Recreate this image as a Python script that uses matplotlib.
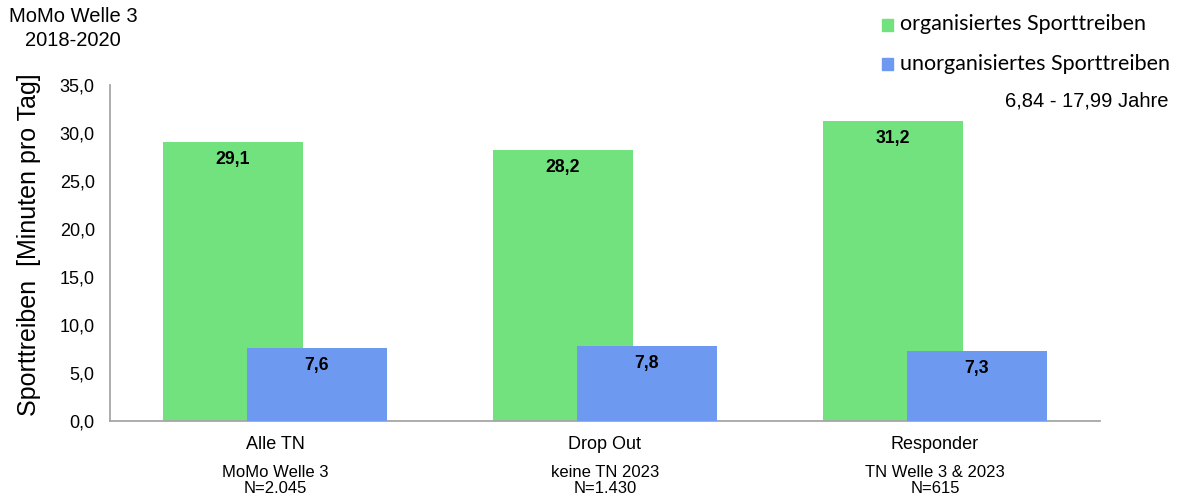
import matplotlib
matplotlib.use("Agg")
import matplotlib.pyplot as plt
from matplotlib.patches import Rectangle

categories = ["Alle TN", "Drop Out", "Responder"]
sublabels = ["MoMo Welle 3\nN=2.045", "keine TN 2023\nN=1.430", "TN Welle 3 & 2023\nN=615"]
organisiert = [29.1, 28.2, 31.2]
unorganisiert = [7.6, 7.8, 7.3]
yticks = [0, 5, 10, 15, 20, 25, 30, 35]

GREEN = "#72E27E"
BLUE = "#6D9AF0"
SPINE = "#A6A6A6"
plt.rcParams["font.family"] = ["Liberation Sans", "DejaVu Sans"]

fig = plt.figure(figsize=(11.77, 5.0), dpi=100)
ax = fig.add_axes([0.0935, 0.158, 0.841, 0.672])

width = 0.424
offset = 0.127
x = list(range(len(categories)))
ax.bar([i - offset for i in x], organisiert, width=width, color=GREEN, zorder=2)
ax.bar([i + offset for i in x], unorganisiert, width=width, color=BLUE, zorder=3)

for i in x:
    ax.annotate(f"{organisiert[i]:.1f}".replace(".", ","), (i - offset, organisiert[i]),
                xytext=(0, -12.5), textcoords="offset points", ha="center", va="center",
                fontsize=12.7, fontweight="bold", zorder=4)
    ax.annotate(f"{unorganisiert[i]:.1f}".replace(".", ","), (i + offset, unorganisiert[i]),
                xytext=(0, -12.5), textcoords="offset points", ha="center", va="center",
                fontsize=12.7, fontweight="bold", zorder=4)

ax.set_xlim(-0.5, 2.5)
ax.set_ylim(0, 35)
ax.set_yticks(yticks)
ax.set_yticklabels([f"{v:.1f}".replace(".", ",") for v in yticks], fontsize=13)
ax.set_xticks(x)
ax.set_xticklabels(categories, fontsize=13)
ax.tick_params(axis="y", length=0, pad=11)
ax.tick_params(axis="x", length=0, pad=10.5)
for s in ("top", "right"):
    ax.spines[s].set_visible(False)
for s in ("left", "bottom"):
    ax.spines[s].set_color(SPINE)
    ax.spines[s].set_linewidth(1.3)

for i in x:
    ax.annotate(sublabels[i], (i, 0), xycoords=("data", "axes fraction"),
                xytext=(0, -31.5), textcoords="offset points", ha="center", va="top",
                fontsize=12, linespacing=1.12)

fig.text(0.025, 0.51, "Sporttreiben  [Minuten pro Tag]", rotation=90, ha="center",
         va="center", fontsize=18)
fig.text(0.062, 0.985, "MoMo Welle 3\n2018-2020", ha="center", va="top", fontsize=14.5,
         linespacing=1.3)

# legend entries
leg_items = [("organisiertes Sporttreiben", GREEN, 0.951), ("unorganisiertes Sporttreiben", BLUE, 0.872)]
for label, color, yy in leg_items:
    fig.patches.append(Rectangle((0.7495, yy - 0.012), 0.0095, 0.023,
                                 transform=fig.transFigure, color=color, figure=fig))
    fig.text(0.7645, yy, label, ha="left", va="center", fontsize=15.5,
             family=["Lato", "DejaVu Sans"])
fig.text(0.993, 0.798, "6,84 - 17,99 Jahre", ha="right", va="center", fontsize=14.5)

fig.savefig("out.png", dpi=100)
